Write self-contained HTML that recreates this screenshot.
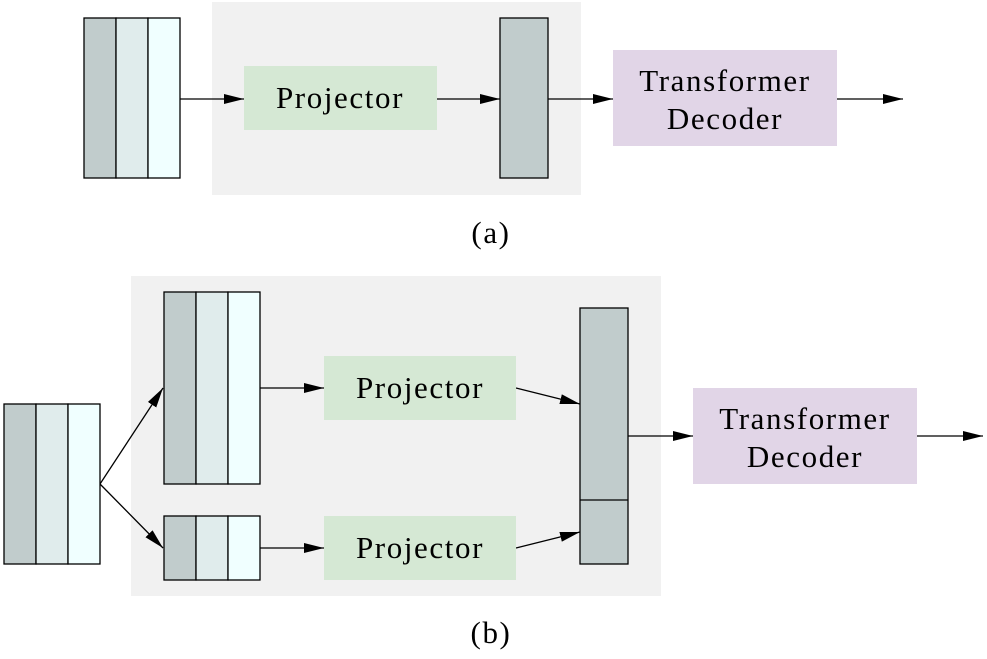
<!DOCTYPE html>
<html><head><meta charset="utf-8"><style>html,body{margin:0;padding:0;background:#fff}</style></head><body>
<svg width="987" height="654" viewBox="0 0 987 654" xmlns="http://www.w3.org/2000/svg" font-family="Liberation Serif, serif" font-size="31" letter-spacing="1.6">
<defs><marker id="ar" markerWidth="20" markerHeight="10" refX="20" refY="5" orient="auto" markerUnits="userSpaceOnUse"><path d="M0,0 L20,5 L0,10 z" fill="#000"/></marker></defs>
<!-- (a) -->
<rect x="212" y="2" width="369" height="193" fill="#f1f1f1"/>
<g stroke="#000" stroke-width="1.3">
<rect x="84" y="18" width="32" height="160" fill="#c1cccc"/>
<rect x="116" y="18" width="32" height="160" fill="#e0ecec"/>
<rect x="148" y="18" width="32" height="160" fill="#f0ffff"/>
<rect x="500" y="18" width="48" height="160" fill="#c1cccc"/>
<line x1="180" y1="99" x2="244" y2="99" marker-end="url(#ar)"/>
<line x1="437" y1="99" x2="500" y2="99" marker-end="url(#ar)"/>
<line x1="548" y1="99" x2="613" y2="99" marker-end="url(#ar)"/>
<line x1="837" y1="99" x2="903" y2="99" marker-end="url(#ar)"/>
</g>
<rect x="244" y="66" width="193" height="64" fill="#d5e8d4"/>
<text x="340" y="108" text-anchor="middle">Projector</text>
<rect x="613" y="50" width="224" height="96" fill="#e1d5e7"/>
<text x="725" y="91" text-anchor="middle">Transformer</text>
<text x="725" y="129" text-anchor="middle">Decoder</text>
<text x="491" y="243" text-anchor="middle">(a)</text>
<!-- (b) -->
<rect x="131" y="276" width="530" height="320" fill="#f1f1f1"/>
<g stroke="#000" stroke-width="1.3">
<rect x="4" y="404" width="32" height="160" fill="#c1cccc"/>
<rect x="36" y="404" width="32" height="160" fill="#e0ecec"/>
<rect x="68" y="404" width="32" height="160" fill="#f0ffff"/>
<rect x="164" y="292" width="32" height="192" fill="#c1cccc"/>
<rect x="196" y="292" width="32" height="192" fill="#e0ecec"/>
<rect x="228" y="292" width="32" height="192" fill="#f0ffff"/>
<rect x="164" y="516" width="32" height="64" fill="#c1cccc"/>
<rect x="196" y="516" width="32" height="64" fill="#e0ecec"/>
<rect x="228" y="516" width="32" height="64" fill="#f0ffff"/>
<rect x="580" y="308" width="48" height="256" fill="#c1cccc"/>
<line x1="580" y1="500" x2="628" y2="500"/>
<line x1="100" y1="484" x2="163" y2="388" marker-end="url(#ar)"/>
<line x1="100" y1="484" x2="163" y2="548" marker-end="url(#ar)"/>
<line x1="260" y1="388" x2="324" y2="388" marker-end="url(#ar)"/>
<line x1="260" y1="548" x2="324" y2="548" marker-end="url(#ar)"/>
<line x1="516" y1="388" x2="580" y2="404" marker-end="url(#ar)"/>
<line x1="516" y1="548" x2="580" y2="532" marker-end="url(#ar)"/>
<line x1="628" y1="436" x2="693" y2="436" marker-end="url(#ar)"/>
<line x1="917" y1="436" x2="983" y2="436" marker-end="url(#ar)"/>
</g>
<rect x="324" y="356" width="192" height="64" fill="#d5e8d4"/>
<text x="420" y="398" text-anchor="middle">Projector</text>
<rect x="324" y="516" width="192" height="64" fill="#d5e8d4"/>
<text x="420" y="558" text-anchor="middle">Projector</text>
<rect x="693" y="388" width="224" height="96" fill="#e1d5e7"/>
<text x="805" y="429" text-anchor="middle">Transformer</text>
<text x="805" y="467" text-anchor="middle">Decoder</text>
<text x="491" y="643" text-anchor="middle">(b)</text>
</svg>
</body></html>
